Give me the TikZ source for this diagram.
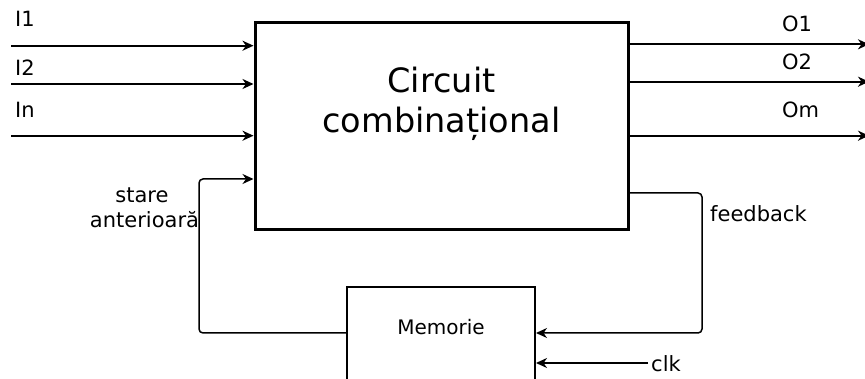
\documentclass[tikz,border=0pt]{standalone}
\usepackage{fontspec}
\setmainfont{DejaVu Sans}
\usetikzlibrary{arrows.meta}
\begin{document}
\begin{tikzpicture}[x=1pt,y=-1pt,
  lbl/.style={inner sep=0pt, anchor=base west, font=\fontsize{21}{25}\selectfont},
  tip/.style={-{Stealth[length=11pt,width=10pt,inset=3.5pt]}},
  sig/.style={line width=2pt, tip},
  fb/.style={line width=1.5pt, rounded corners=4pt, tip},
  bigbox/.style={draw, line width=3pt, minimum width=373pt, minimum height=207pt, inner sep=0pt, outer sep=0pt},
  membox/.style={draw, line width=2pt, minimum width=188pt, minimum height=133pt, inner sep=0pt, outer sep=0pt}]
\useasboundingbox (0,0) rectangle (865,379);
\clip (0,0) rectangle (865,379);
% boxes
\node[bigbox] (cc) at (441.5,126.5) {};
\node[inner sep=0pt, anchor=north, align=center, font=\fontsize{33.5}{40}\selectfont] (cctext) at (441.5,66.5) {Circuit\\combinațional};
\node[membox] (mem) at (441,353.5) {};
\node[inner sep=0pt, anchor=base, font=\fontsize{20}{24}\selectfont] (memtext) at (441,335) {Memorie};
% inputs
\coordinate (i1) at (11,45.7);
\coordinate (i2) at (11,84);
\coordinate (in) at (11,135.7);
\draw[sig, shorten >=1.5pt] (i1) -- (i1 -| cc.west);
\draw[sig, shorten >=1.5pt] (i2) -- (i2 -| cc.west);
\draw[sig, shorten >=1.5pt] (in) -- (in -| cc.west);
\node[lbl] (li1) at (15,27) {I1};
\node[lbl] (li2) at (15,76) {I2};
\node[lbl] (lin) at (15,118) {In};
% outputs
\coordinate (o1) at (869,44.3);
\coordinate (o2) at (869,81.7);
\coordinate (om) at (869,135.7);
\draw[sig] (o1 -| cc.east) -- (o1);
\draw[sig] (o2 -| cc.east) -- (o2);
\draw[sig] (om -| cc.east) -- (om);
\node[lbl] (lo1) at (782,32) {O1};
\node[lbl] (lo2) at (782,70) {O2};
\node[lbl] (lom) at (782,118) {Om};
% feedback
\coordinate (fbr) at (702,193);
\coordinate (fbm) at (702,333);
\draw[fb, shorten >=1pt] (fbr -| cc.east) -- (fbr) -- (fbm) -- (fbm -| mem.east);
\node[lbl] (lfb) at (710,221.5) {feedback};
% previous state
\coordinate (stb) at (199,333);
\coordinate (stt) at (199,179);
\draw[fb, shorten >=1.5pt] (stb -| mem.west) -- (stb) -- (stt) -- (stt -| cc.west);
\node[lbl, anchor=base] (lst1) at (142,203) {stare};
\node[lbl, anchor=base] (lst2) at (144.5,228) {anterioară};
% clock
\coordinate (clk) at (648,363);
\draw[line width=1.7pt, tip, shorten >=1pt] (clk) -- (clk -| mem.east);
\node[lbl] (lclk) at (651,371) {clk};
\end{tikzpicture}
\end{document}
